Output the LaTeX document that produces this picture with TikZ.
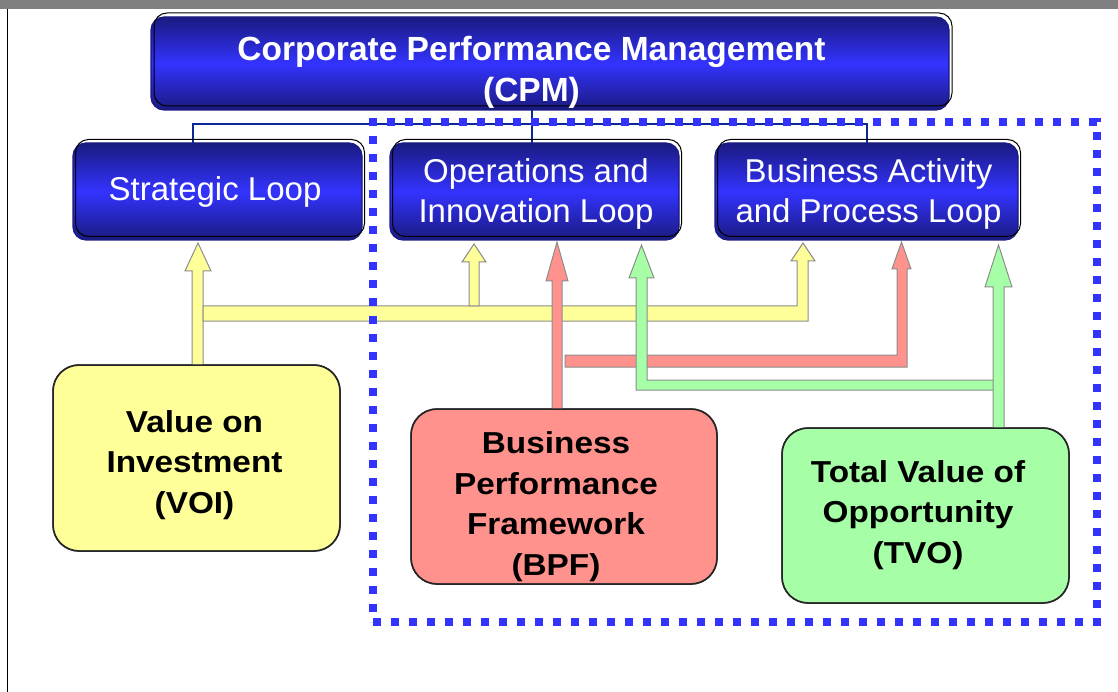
\documentclass[tikz,border=0pt]{standalone}
\usepackage{fontspec}
\setmainfont{Liberation Sans}
\newfontfamily\widesans[FakeStretch=1.1]{Liberation Sans}
\usetikzlibrary{calc}

\definecolor{deepnavy}{RGB}{26,26,128}
\definecolor{loopblue}{RGB}{51,51,255}
\definecolor{dotblue}{RGB}{51,51,255}
\definecolor{linknavy}{RGB}{12,40,150}
\definecolor{voiyellow}{RGB}{255,255,153}
\definecolor{bpfred}{RGB}{255,146,140}
\definecolor{tvogreen}{RGB}{166,255,166}
\definecolor{arrowedge}{RGB}{140,140,140}
\definecolor{topbar}{RGB}{128,128,128}

\tikzset{
  boxbase/.style={rectangle, inner sep=0pt, outer sep=0pt},
  loopfill/.style={boxbase, rounded corners=13pt, draw=deepnavy, line width=1.2pt,
    top color=deepnavy, bottom color=deepnavy, middle color=loopblue},
  loopedge/.style={boxbase, rounded corners=13pt, draw=black, line width=1pt},
  looptext/.style={text=white, align=center, anchor=base, inner sep=0pt},
  valuebox/.style={boxbase, rounded corners=26pt, draw=black!85, line width=1.5pt},
  valuetext/.style={text=black, align=center, anchor=base, inner sep=0pt,
    font=\widesans\bfseries\fontsize{30.3}{40.5}\selectfont},
  blockarrow/.style={draw=arrowedge, line width=1pt, line join=miter},
  link/.style={draw=linknavy, line width=2pt},
}

\begin{document}
\begin{tikzpicture}[x=1pt, y=-1pt]
\useasboundingbox (0,0) rectangle (1118,692);

% page frame
\fill[topbar] (0,0) rectangle (1118,9);
\draw[black, line width=1pt] (7.5,9) -- (7.5,692);

% top box and its three loops (text nodes are placed by their last baseline)
\node[loopfill, minimum width=798pt, minimum height=93pt] (cpm) at (550,63.5) {};
\node[loopedge, minimum width=798pt, minimum height=93pt] (cpmedge) at (553,59.5) {};

\coordinate (busL) at (193,124);
\coordinate (busM) at (532,124);
\coordinate (busR) at (867,124);

\node[loopfill, minimum width=289pt, minimum height=97pt] (sl) at (217.5,191.5) {};
\node[loopfill, minimum width=289pt, minimum height=97pt] (oil) at (534.5,191.5) {};
\node[loopfill, minimum width=303pt, minimum height=97pt] (bap) at (866.5,191.5) {};

\draw[link] (busL |- sl.north) -- (busL) -- (busR) -- (busR |- bap.north);
\draw[link] (busM |- cpm.south) -- (busM |- oil.north);

\node[looptext, font=\bfseries\fontsize{33.5}{41}\selectfont] (cpmtxt) at (531.5,102)
  {Corporate Performance Management\\(CPM)};

\node[loopedge, minimum width=289pt, minimum height=97pt] (sledge) at (220,188) {};
\node[loopedge, minimum width=289pt, minimum height=97pt] (oiledge) at (537,188) {};
\node[loopedge, minimum width=303pt, minimum height=97pt] (bapedge) at (869,188) {};

\node[looptext, font=\fontsize{33}{40}\selectfont] (sltxt) at (215,201) {Strategic Loop};
\node[looptext, font=\fontsize{33}{40}\selectfont] (oiltxt) at (536,223)
  {Operations and\\Innovation Loop};
\node[looptext, font=\fontsize{33}{40}\selectfont] (baptxt) at (868.5,223)
  {Business Activity\\and Process Loop};

% the three value boxes
\node[valuebox, fill=voiyellow, minimum width=287pt, minimum height=186pt] (voi) at (196.5,458) {};
\node[valuebox, fill=bpfred, minimum width=306pt, minimum height=175pt] (bpf) at (564,496.5) {};
\node[valuebox, fill=tvogreen, minimum width=287pt, minimum height=175pt] (tvo) at (925.5,515.5) {};

% yellow arrows from VOI
\filldraw[blockarrow, fill=voiyellow]
  (192,0 |- voi.north) -- (192,271) -- (185,271) -- (198,243) -- (211,271)
  -- (203,271) -- (203,0 |- voi.north) -- cycle;
\filldraw[blockarrow, fill=voiyellow]
  (203,306) -- (797,306) -- (797,261) -- (791,261) -- (803,243) -- (815,261)
  -- (808,261) -- (808,321) -- (203,321) -- cycle;
\filldraw[blockarrow, fill=voiyellow]
  (469,306) -- (469,262) -- (462,262) -- (474,244) -- (486,262) -- (479,262)
  -- (479,306) -- cycle;

% red arrows from BPF
\filldraw[blockarrow, fill=bpfred]
  (565,355) -- (897,355) -- (897,269) -- (892,269) -- (901.5,242) -- (911,269)
  -- (907,269) -- (907,367) -- (565,367) -- cycle;
\filldraw[blockarrow, fill=bpfred]
  (552,0 |- bpf.north) -- (552,281) -- (546,281) -- (557,242) -- (568,281)
  -- (562,281) -- (562,0 |- bpf.north) -- cycle;

% green arrows from TVO
\filldraw[blockarrow, fill=tvogreen]
  (636,390) -- (636,278) -- (629,278) -- (641.5,245) -- (654,278) -- (647,278)
  -- (647,380) -- (996,380) -- (996,390) -- cycle;
\filldraw[blockarrow, fill=tvogreen]
  (993,0 |- tvo.north) -- (993,287) -- (985,287) -- (998.5,245) -- (1012,287)
  -- (1004,287) -- (1004,0 |- tvo.north) -- cycle;

% redraw the box outlines over the arrow feet
\draw[black!85, line width=1.5pt, rounded corners=26pt]
  (voi.south west) rectangle (voi.north east);
\draw[black!85, line width=1.5pt, rounded corners=26pt]
  (bpf.south west) rectangle (bpf.north east);
\draw[black!85, line width=1.5pt, rounded corners=26pt]
  (tvo.south west) rectangle (tvo.north east);

\node[valuetext] (voitxt) at (194.5,513) {Value on\\Investment\\(VOI)};
\node[valuetext] (bpftxt) at (556,575) {Business\\Performance\\Framework\\(BPF)};
\node[valuetext] (tvotxt) at (918,563) {Total Value of\\Opportunity\\(TVO)};

% dotted frame around the operational loops
\node[boxbase, draw=dotblue, line width=8pt, dash pattern=on 8pt off 10pt,
  minimum width=724pt, minimum height=500pt] (ops) at (735,372) {};
\end{tikzpicture}
\end{document}
